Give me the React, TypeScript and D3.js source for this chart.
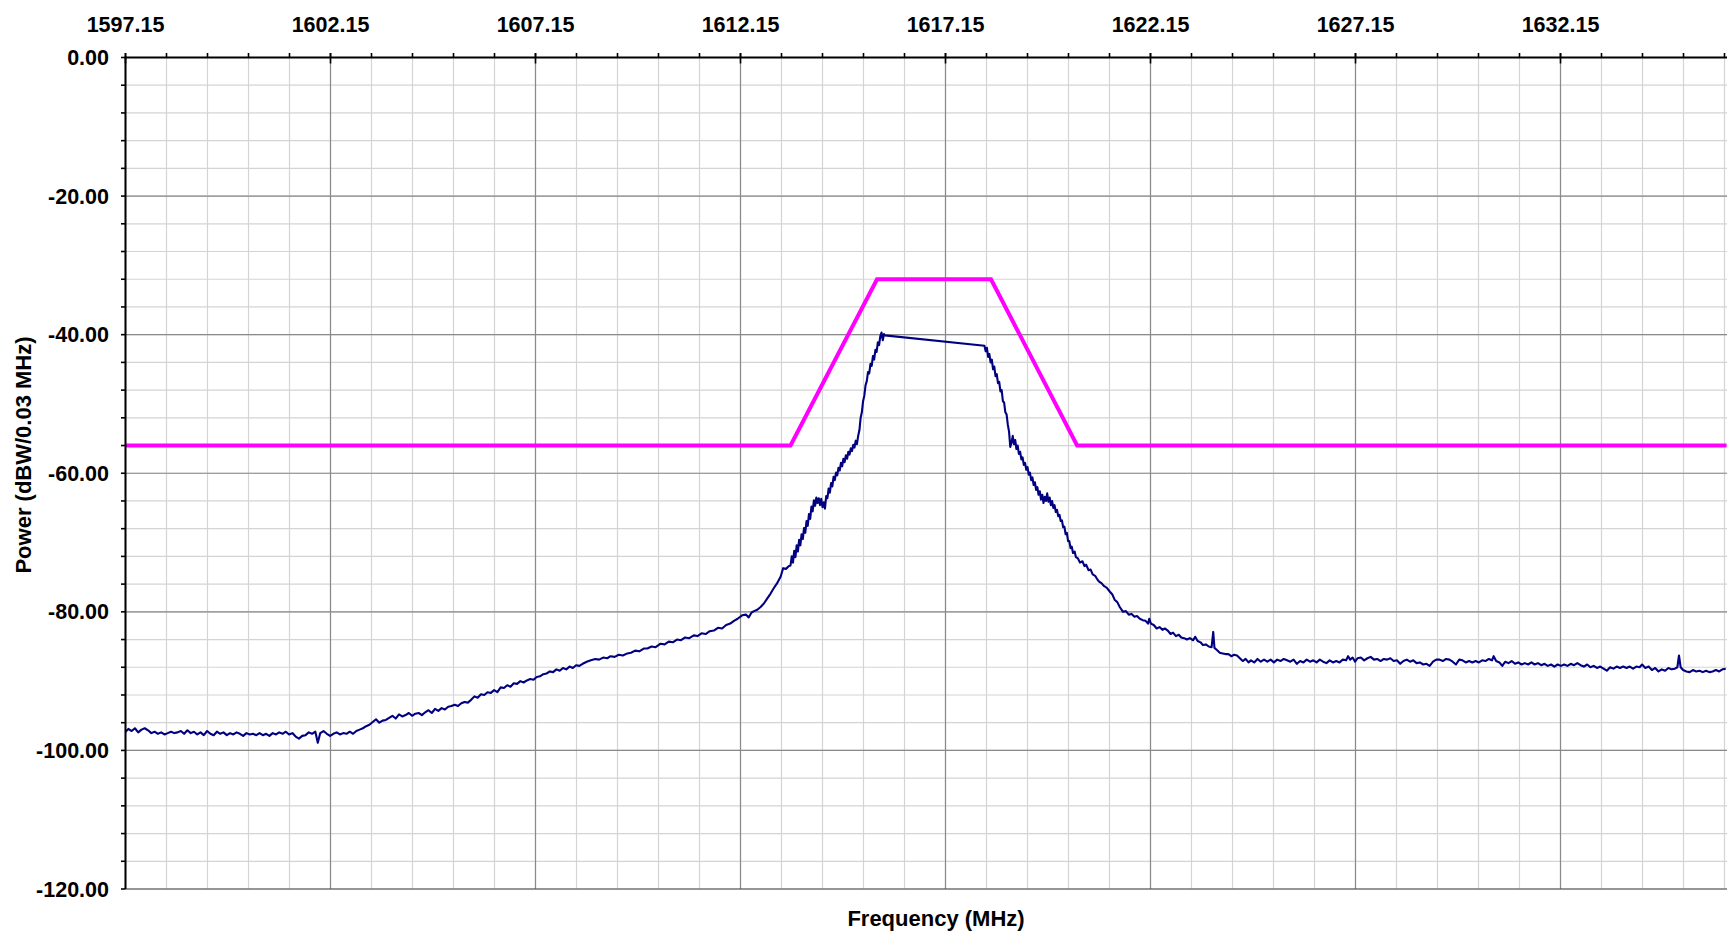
import React from 'react';
import * as d3 from 'd3';

// ---- axis labels ----
const freqMajorTicks = [1597.15, 1602.15, 1607.15, 1612.15, 1617.15, 1622.15, 1627.15, 1632.15];
const freqTickLabels = ['1597.15', '1602.15', '1607.15', '1612.15', '1617.15', '1622.15', '1627.15', '1632.15'];
const powerMajorTicks = [0, -20, -40, -60, -80, -100, -120];
const powerTickLabels = ['0.00', '-20.00', '-40.00', '-60.00', '-80.00', '-100.00', '-120.00'];
const xTitle = 'Frequency (MHz)';
const yTitle = 'Power (dBW/0.03 MHz)';

// ---- emission mask (magenta) ----
const maskFreq = [1597.15, 1613.37, 1615.48, 1618.26, 1620.36, 1636.2];
const maskPower = [-56, -56, -32, -32, -56, -56];

// ---- measured spectrum (navy) : [MHz, dBW] ----
const spectrumTrace: [number, number][] = [
  [1597.15,-97.3],[1597.22,-96.9],[1597.30,-97.2],[1597.38,-96.8],[1597.46,-97.4],[1597.54,-97.0],[1597.62,-96.8],[1597.70,-97.1],
  [1597.78,-97.5],[1597.86,-97.3],[1597.94,-97.6],[1598.02,-97.4],[1598.10,-97.7],[1598.18,-97.5],[1598.26,-97.3],[1598.34,-97.5],
  [1598.42,-97.4],[1598.50,-97.2],[1598.58,-97.6],[1598.66,-97.1],[1598.74,-97.5],[1598.82,-97.3],[1598.90,-97.7],[1598.98,-97.4],
  [1599.06,-97.8],[1599.14,-97.2],[1599.22,-97.6],[1599.30,-97.8],[1599.38,-97.3],[1599.46,-97.6],[1599.54,-97.4],[1599.62,-97.8],
  [1599.70,-97.5],[1599.78,-97.7],[1599.86,-97.4],[1599.94,-97.6],[1600.02,-97.9],[1600.10,-97.5],[1600.18,-97.7],[1600.26,-97.6],
  [1600.34,-97.8],[1600.42,-97.5],[1600.50,-97.8],[1600.58,-97.6],[1600.66,-97.9],[1600.74,-97.5],[1600.82,-97.7],[1600.90,-97.4],
  [1600.98,-97.6],[1601.06,-97.3],[1601.14,-97.7],[1601.22,-97.5],[1601.30,-98.0],[1601.38,-98.3],[1601.46,-97.9],[1601.54,-97.8],
  [1601.62,-97.4],[1601.70,-97.6],[1601.78,-97.3],[1601.84,-98.9],[1601.90,-97.5],[1601.98,-97.2],[1602.06,-97.6],[1602.14,-97.9],
  [1602.22,-97.6],[1602.30,-97.4],[1602.38,-97.7],[1602.46,-97.5],[1602.54,-97.6],[1602.62,-97.3],[1602.70,-97.6],[1602.78,-97.2],
  [1602.86,-97.0],[1602.94,-96.8],[1603.02,-96.5],[1603.10,-96.3],[1603.18,-95.9],[1603.26,-95.5],[1603.34,-96.0],[1603.42,-95.7],
  [1603.50,-95.6],[1603.58,-95.3],[1603.66,-95.0],[1603.74,-95.4],[1603.82,-94.8],[1603.90,-95.1],[1603.98,-94.9],[1604.06,-94.6],
  [1604.14,-95.0],[1604.22,-94.7],[1604.30,-94.6],[1604.38,-94.9],[1604.46,-94.5],[1604.54,-94.2],[1604.62,-94.6],[1604.70,-94.0],
  [1604.78,-94.3],[1604.86,-93.9],[1604.94,-94.1],[1605.02,-93.7],[1605.10,-93.6],[1605.18,-93.4],[1605.26,-93.6],[1605.34,-93.2],
  [1605.42,-93.0],[1605.50,-93.1],[1605.58,-92.7],[1605.66,-92.2],[1605.74,-92.4],[1605.82,-91.9],[1605.90,-92.0],[1605.98,-91.6],
  [1606.06,-91.7],[1606.14,-91.3],[1606.22,-91.6],[1606.30,-90.9],[1606.38,-91.0],[1606.46,-90.6],[1606.54,-90.8],[1606.62,-90.3],
  [1606.70,-90.4],[1606.78,-90.0],[1606.86,-90.2],[1606.94,-89.9],[1607.02,-89.7],[1607.10,-89.8],[1607.18,-89.4],[1607.26,-89.3],
  [1607.34,-89.0],[1607.42,-88.9],[1607.50,-88.6],[1607.58,-88.7],[1607.66,-88.3],[1607.74,-88.5],[1607.82,-88.1],[1607.90,-88.3],
  [1607.98,-87.9],[1608.06,-88.1],[1608.14,-87.7],[1608.22,-87.8],
  [1608.30,-87.5],[1608.40,-87.2],[1608.50,-87.0],[1608.61,-86.8],[1608.70,-86.9],[1608.80,-86.6],[1608.90,-86.7],[1608.98,-86.4],
  [1609.08,-86.5],[1609.18,-86.2],[1609.28,-86.3],[1609.39,-86.0],[1609.48,-85.9],[1609.58,-85.6],[1609.68,-85.7],[1609.79,-85.3],
  [1609.88,-85.3],[1609.98,-85.0],[1610.08,-85.1],[1610.20,-84.6],[1610.30,-84.7],[1610.40,-84.3],[1610.50,-84.4],[1610.60,-84.0],
  [1610.70,-84.1],[1610.80,-83.7],[1610.90,-83.8],[1611.01,-83.4],[1611.10,-83.5],[1611.20,-83.1],[1611.30,-83.2],[1611.40,-82.8],
  [1611.50,-82.7],[1611.60,-82.3],[1611.70,-82.4],[1611.80,-81.9],[1611.90,-81.7],[1611.99,-81.3],[1612.08,-81.0],[1612.19,-80.5],
  [1612.28,-80.4],[1612.35,-80.8],[1612.42,-80.1],[1612.48,-79.9],[1612.56,-79.7],[1612.64,-79.3],[1612.72,-78.8],[1612.80,-78.1],
  [1612.88,-77.4],[1612.96,-76.6],[1613.04,-75.9],[1613.13,-74.9],[1613.19,-73.7],[1613.26,-73.8],[1613.33,-73.4],
  [1613.37,-73.3],[1613.40,-72.0],[1613.43,-72.9],[1613.46,-71.2],[1613.49,-72.1],[1613.52,-70.4],[1613.55,-71.3],[1613.58,-69.6],
  [1613.61,-70.4],[1613.64,-68.8],[1613.67,-69.5],[1613.70,-67.9],[1613.73,-68.6],[1613.76,-66.9],[1613.79,-67.6],[1613.82,-65.9],
  [1613.85,-66.6],[1613.88,-64.8],[1613.91,-65.5],[1613.94,-63.9],[1613.97,-64.7],[1614.00,-63.5],[1614.03,-64.3],[1614.06,-63.6],
  [1614.09,-64.6],[1614.12,-63.7],[1614.15,-64.9],[1614.18,-64.2],[1614.21,-65.1],[1614.24,-63.3],[1614.27,-63.6],[1614.30,-62.2],
  [1614.33,-62.8],[1614.36,-61.4],[1614.39,-61.9],[1614.42,-60.5],[1614.45,-61.0],[1614.48,-59.9],[1614.51,-60.3],[1614.54,-59.2],
  [1614.57,-59.6],[1614.60,-58.5],[1614.63,-59.0],[1614.66,-57.9],[1614.69,-58.4],[1614.72,-57.4],[1614.75,-57.9],[1614.78,-56.9],
  [1614.81,-57.3],[1614.84,-56.4],[1614.87,-56.8],[1614.90,-55.9],[1614.93,-56.3],[1614.96,-55.3],[1614.99,-55.8],[1615.02,-54.6],
  [1615.05,-53.8],[1615.08,-52.0],[1615.11,-51.2],[1615.14,-49.6],[1615.17,-48.8],[1615.20,-47.3],[1615.23,-46.7],[1615.26,-45.4],
  [1615.29,-45.6],[1615.32,-44.2],[1615.35,-44.5],[1615.38,-43.1],[1615.41,-43.6],[1615.44,-42.2],[1615.47,-42.5],[1615.50,-41.1],
  [1615.53,-41.5],[1615.56,-40.2],[1615.59,-39.7],[1615.62,-40.8],[1615.65,-39.9],[1615.67,-40.1],
  [1618.10,-41.6],[1618.13,-42.4],[1618.16,-41.9],[1618.19,-43.2],[1618.22,-42.8],[1618.25,-44.0],[1618.28,-43.6],[1618.31,-45.0],
  [1618.34,-44.6],[1618.37,-46.0],[1618.40,-45.7],[1618.43,-47.0],[1618.46,-46.8],[1618.49,-48.2],[1618.52,-48.0],[1618.55,-49.6],
  [1618.58,-49.8],[1618.61,-51.2],[1618.64,-51.5],[1618.67,-53.0],[1618.70,-54.0],[1618.73,-56.2],[1618.76,-55.6],[1618.79,-54.6],
  [1618.82,-55.8],[1618.85,-55.2],[1618.88,-56.5],[1618.91,-56.0],[1618.94,-57.2],[1618.97,-56.9],[1619.00,-58.0],[1619.03,-57.7],
  [1619.06,-58.8],[1619.09,-58.5],[1619.12,-59.5],[1619.15,-59.1],[1619.18,-60.2],[1619.21,-59.9],[1619.24,-61.0],[1619.27,-60.6],
  [1619.30,-61.7],[1619.33,-61.3],[1619.36,-62.4],[1619.39,-62.0],[1619.42,-63.1],[1619.45,-62.6],[1619.48,-63.8],[1619.51,-63.1],
  [1619.54,-64.3],[1619.57,-63.4],[1619.60,-64.0],[1619.63,-62.9],[1619.66,-64.1],[1619.69,-63.5],[1619.72,-64.6],[1619.75,-64.0],
  [1619.78,-65.0],[1619.81,-64.6],[1619.84,-65.6],[1619.87,-65.3],[1619.90,-66.2],[1619.93,-66.0],[1619.96,-66.9],[1619.99,-66.8],
  [1620.02,-67.8],[1620.05,-67.7],[1620.08,-68.8],[1620.11,-68.6],[1620.14,-69.8],[1620.17,-69.8],[1620.20,-70.8],[1620.23,-70.6],
  [1620.26,-71.5],[1620.30,-71.3],[1620.33,-72.1],[1620.38,-72.3],[1620.43,-72.9],[1620.49,-72.7],[1620.54,-73.4],[1620.58,-73.2],
  [1620.64,-74.0],[1620.69,-73.9],[1620.74,-74.6],[1620.80,-74.8],[1620.84,-75.2],[1620.89,-75.6],
  [1620.96,-75.9],[1621.02,-76.3],[1621.08,-76.5],[1621.16,-77.1],[1621.22,-77.5],[1621.28,-78.3],[1621.34,-78.6],[1621.40,-79.3],
  [1621.48,-80.0],[1621.55,-79.9],[1621.62,-80.4],[1621.69,-80.3],[1621.76,-80.7],[1621.82,-80.6],[1621.89,-81.0],[1621.96,-81.2],
  [1622.03,-81.3],[1622.09,-81.7],[1622.12,-81.0],[1622.16,-81.7],[1622.23,-81.9],[1622.30,-82.4],[1622.37,-82.2],[1622.44,-82.6],
  [1622.50,-82.4],[1622.57,-82.7],[1622.64,-83.2],[1622.70,-83.0],[1622.77,-83.5],[1622.84,-83.3],[1622.90,-83.7],[1622.97,-83.8],
  [1623.04,-84.0],[1623.11,-83.8],[1623.19,-84.1],[1623.24,-83.6],[1623.30,-84.2],[1623.37,-84.4],[1623.43,-84.8],[1623.50,-84.7],
  [1623.57,-85.0],[1623.64,-85.1],[1623.68,-82.9],[1623.71,-85.2],[1623.77,-85.5],[1623.84,-85.9],[1623.91,-86.0],[1623.98,-86.1],
  [1624.05,-86.1],[1624.12,-86.4],[1624.19,-86.2],[1624.26,-86.3],[1624.33,-86.7],[1624.40,-87.1],[1624.47,-86.8],[1624.54,-87.3],
  [1624.60,-87.0],[1624.68,-87.3],[1624.76,-86.8],[1624.84,-87.2],[1624.92,-86.9],[1625.00,-87.2],[1625.08,-86.9],[1625.16,-87.3],
  [1625.24,-86.9],[1625.32,-87.1],[1625.40,-86.8],[1625.48,-87.0],[1625.56,-87.2],[1625.64,-86.9],[1625.72,-87.5],[1625.80,-87.1],
  [1625.88,-87.3],[1625.96,-86.9],[1626.04,-87.2],[1626.12,-87.0],[1626.20,-87.3],[1626.28,-86.9],[1626.36,-87.2],[1626.44,-87.4],
  [1626.52,-87.0],[1626.60,-87.3],[1626.68,-87.1],[1626.76,-87.3],[1626.84,-86.9],[1626.92,-87.0],[1626.97,-86.4],[1627.02,-86.9],
  [1627.08,-86.6],[1627.14,-87.2],[1627.20,-86.7],[1627.28,-86.6],[1627.36,-87.0],[1627.44,-86.7],[1627.52,-86.5],[1627.60,-86.9],
  [1627.68,-86.8],[1627.76,-87.1],[1627.84,-86.8],[1627.92,-86.9],[1628.00,-86.7],[1628.08,-87.1],[1628.16,-87.0],[1628.24,-87.5],
  [1628.32,-87.1],[1628.40,-86.9],[1628.48,-87.2],[1628.56,-87.0],[1628.64,-87.4],[1628.72,-87.3],[1628.80,-87.6],[1628.88,-87.5],
  [1628.96,-87.8],[1629.04,-87.2],[1629.12,-86.9],[1629.20,-86.9],[1629.28,-87.1],[1629.36,-86.8],[1629.44,-86.9],[1629.52,-87.2],
  [1629.60,-87.6],[1629.68,-86.9],[1629.76,-87.0],[1629.84,-87.3],[1629.92,-87.1],[1630.00,-87.3],[1630.08,-87.1],[1630.16,-87.3],
  [1630.24,-87.0],[1630.32,-87.1],[1630.40,-86.8],[1630.48,-87.0],[1630.52,-86.4],[1630.58,-87.1],[1630.66,-87.3],[1630.73,-87.8],
  [1630.80,-87.2],[1630.88,-87.4],[1630.96,-87.1],[1631.04,-87.5],[1631.12,-87.3],[1631.20,-87.6],[1631.28,-87.4],[1631.36,-87.6],
  [1631.44,-87.3],[1631.52,-87.6],[1631.60,-87.4],[1631.68,-87.7],[1631.76,-87.5],[1631.84,-87.8],[1631.92,-87.6],[1632.00,-87.9],
  [1632.08,-87.6],[1632.16,-87.8],[1632.24,-87.6],[1632.32,-87.8],[1632.40,-87.5],[1632.48,-87.7],[1632.56,-87.4],[1632.64,-87.7],
  [1632.72,-87.9],[1632.80,-87.6],[1632.88,-88.0],[1632.96,-87.8],[1633.04,-88.1],[1633.12,-87.9],[1633.20,-88.2],[1633.28,-88.5],
  [1633.36,-88.0],[1633.44,-88.2],[1633.52,-87.9],[1633.60,-88.1],[1633.68,-87.9],[1633.76,-88.1],[1633.84,-87.9],[1633.92,-88.2],
  [1634.00,-87.9],[1634.08,-88.0],[1634.14,-87.6],[1634.22,-88.1],[1634.30,-87.9],[1634.38,-88.4],[1634.46,-88.1],[1634.54,-88.6],
  [1634.62,-88.3],[1634.70,-88.5],[1634.78,-88.1],[1634.86,-88.3],[1634.94,-88.2],[1635.00,-88.0],[1635.04,-86.3],[1635.08,-88.0],
  [1635.14,-88.4],[1635.22,-88.6],[1635.30,-88.7],[1635.38,-88.4],[1635.46,-88.6],[1635.54,-88.5],[1635.62,-88.7],[1635.70,-88.5],
  [1635.78,-88.7],[1635.86,-88.6],[1635.94,-88.4],[1636.02,-88.6],[1636.10,-88.3],[1636.18,-88.2],
];

const FONT = "'Liberation Sans', Arial, Helvetica, sans-serif";

export default function App() {
  const W = 1727;
  const H = 932;
  const left = 125.5;
  const top = 57.5;
  const bottom = 889;
  const right = W;

  const x = d3.scaleLinear().domain([1597.15, 1637.15]).range([left, left + 40 * 41]);
  const y = d3.scaleLinear().domain([0, -120]).range([top, bottom]);

  const minorFreqs = d3.range(0, 40).map((i) => 1597.15 + i).filter((f) => x(f) <= right);
  const minorPowers = d3.range(0, 31).map((i) => -4 * i);

  const traceLine = d3
    .line<[number, number]>()
    .x((d) => x(d[0]))
    .y((d) => y(d[1]));
  const maskLine = d3
    .line<number>()
    .x((_, i) => x(maskFreq[i]))
    .y((d) => y(d));

  return (
    <svg
      width={W}
      height={H}
      viewBox={`0 0 ${W} ${H}`}
      style={{ position: 'absolute', left: 0, top: 0, background: '#fff' }}
    >
      <defs>
        <clipPath id="plotClip">
          <rect x={left} y={top - 2} width={right - left} height={bottom - top + 4} />
        </clipPath>
      </defs>
      <rect x={0} y={0} width={W} height={H} fill="#fff" />

      {/* minor grid */}
      <g stroke="#d4d4d4" strokeWidth={1.2}>
        {minorFreqs.map((f, i) => (
          <line key={'mx' + i} x1={x(f)} x2={x(f)} y1={top} y2={bottom} />
        ))}
        {minorPowers.map((p, i) => (
          <line key={'my' + i} x1={left} x2={right} y1={y(p)} y2={y(p)} />
        ))}
      </g>
      {/* major grid */}
      <g stroke="#8a8a8a" strokeWidth={1.2}>
        {freqMajorTicks.map((f, i) => (
          <line key={'Mx' + i} x1={x(f)} x2={x(f)} y1={top} y2={bottom} />
        ))}
        {powerMajorTicks.map((p, i) => (
          <line key={'My' + i} x1={left} x2={right} y1={y(p)} y2={y(p)} stroke={p === -120 ? '#444' : undefined} />
        ))}
      </g>

      <g clipPath="url(#plotClip)">
        <path d={maskLine(maskPower) || ''} fill="none" stroke="#ff00ff" strokeWidth={4} strokeLinejoin="miter" />
        <path d={traceLine(spectrumTrace) || ''} fill="none" stroke="#000080" strokeWidth={2.1} strokeLinejoin="round" />
      </g>

      {/* axes */}
      <line x1={left} x2={right} y1={top} y2={top} stroke="#000" strokeWidth={2} />
      <line x1={left} x2={left} y1={top - 1} y2={bottom} stroke="#000" strokeWidth={2} />
      <g stroke="#000" strokeWidth={1.6}>
        {minorFreqs.map((f, i) => (
          <line key={'tx' + i} x1={x(f)} x2={x(f)} y1={top} y2={top - 4.5} />
        ))}
        {freqMajorTicks.map((f, i) => (
          <line key={'Tx' + i} x1={x(f)} x2={x(f)} y1={top - 4.5} y2={top + 6} />
        ))}
        {minorPowers.map((p, i) => (
          <line key={'ty' + i} x1={left - 4.5} x2={left} y1={y(p)} y2={y(p)} />
        ))}
      </g>

      {/* tick labels */}
      <g fontFamily={FONT} fontWeight="bold" fontSize={21.5} fill="#000">
        {freqMajorTicks.map((f, i) => (
          <text key={'lx' + i} x={x(f)} y={31.5} textAnchor="middle">
            {freqTickLabels[i]}
          </text>
        ))}
        {powerMajorTicks.map((p, i) => (
          <text key={'ly' + i} x={109} y={y(p) + 7.5} textAnchor="end">
            {powerTickLabels[i]}
          </text>
        ))}
        <text x={936} y={926} textAnchor="middle" fontSize={22}>
          {xTitle}
        </text>
        <text transform="translate(31,455) rotate(-90)" textAnchor="middle" fontSize={22}>
          {yTitle}
        </text>
      </g>
    </svg>
  );
}
